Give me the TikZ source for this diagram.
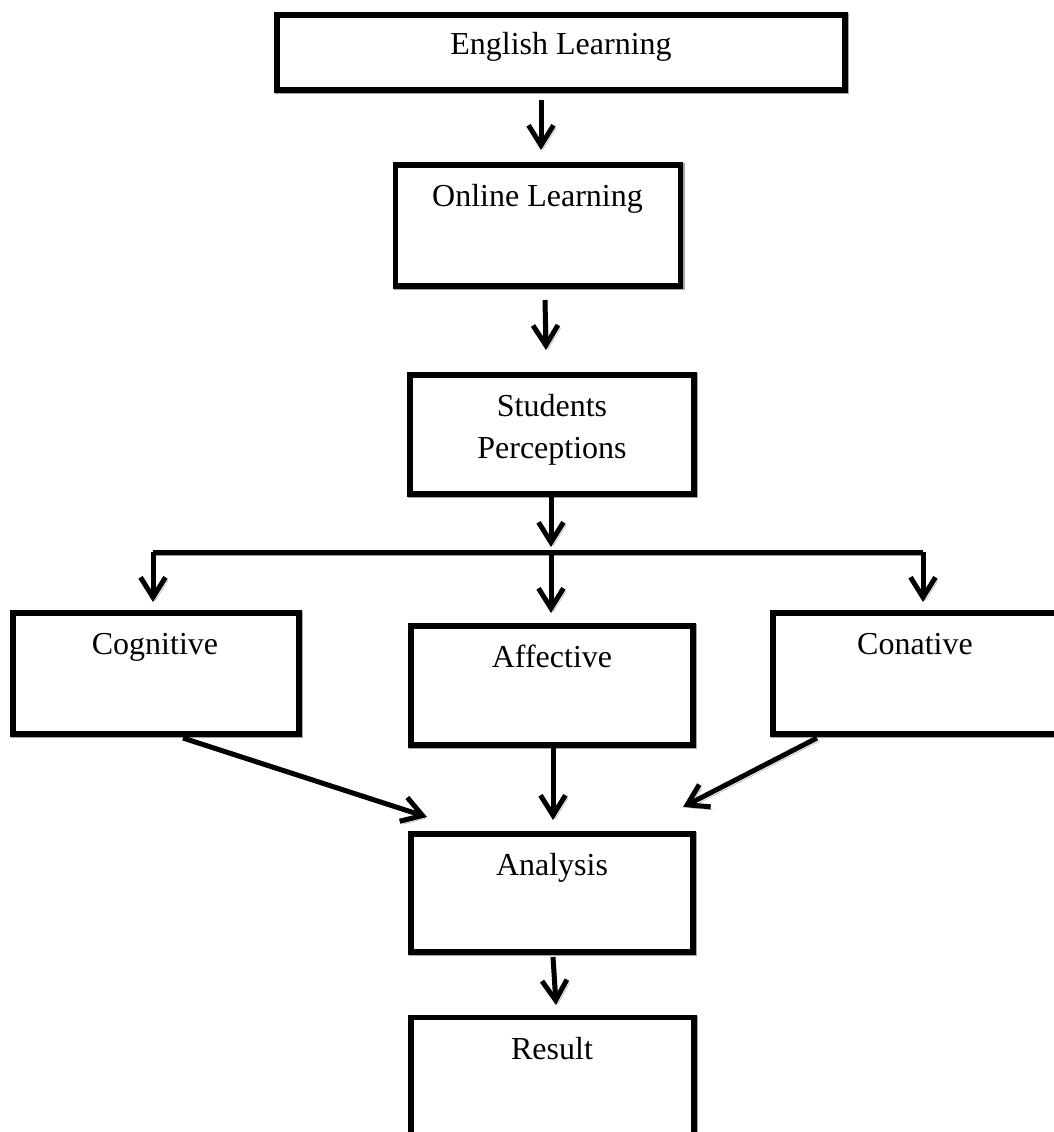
\documentclass[tikz,border=0pt]{standalone}
\usepackage{fontspec}
\setmainfont{Liberation Serif}
\usetikzlibrary{arrows.meta}
\begin{document}
\begin{tikzpicture}[x=1pt,y=-1pt,
  box/.style={draw=black, line width=5.7pt, rectangle, inner sep=0pt, outer sep=0pt, fill=white,
    preaction={draw=black!35, line width=5.7pt, transform canvas={shift={(1.2pt,-1.2pt)}}}},
  lbl/.style={anchor=base, inner sep=0pt, font=\fontsize{32}{42}\selectfont, align=center},
  arr/.style={line width=5pt, -{Straight Barb[length=20pt,width=25pt,line width=5pt]},
    preaction={draw=black!40, transform canvas={shift={(2.5pt,-3pt)}}}},
  bar/.style={line width=5pt, line cap=butt,
    preaction={draw=black!40, transform canvas={shift={(2.5pt,-3.5pt)}}}}
]
\fill[white] (0,0) rectangle (1054,1132);
\useasboundingbox (0,0) rectangle (1054,1132);

% boxes
\node[box, minimum width=568pt, minimum height=75pt] (eng) at (561,52.5) {};
\node[box, minimum width=285pt, minimum height=121pt] (onl) at (538,225.5) {};
\node[box, minimum width=284pt, minimum height=119pt] (stu) at (552,434.5) {};
\node[box, minimum width=286pt, minimum height=121pt] (cog) at (156,673.5) {};
\node[box, minimum width=282pt, minimum height=119pt] (aff) at (552,685.5) {};
\node[box, minimum width=286pt, minimum height=121pt] (con) at (916,673.5) {};
\node[box, minimum width=282pt, minimum height=118pt] (ana) at (552,893) {};
\node[box, minimum width=283pt, minimum height=123pt] (res) at (552.5,1079) {};

% labels
\node[lbl] (teng) at (561,55) {English Learning};
\node[lbl] (tonl) at (537.5,206) {Online Learning};
\node[lbl] (tstu1) at (552,416) {Students};
\node[lbl] (tstu2) at (552,458) {Perceptions};
\node[lbl] (tcog) at (155,654) {Cognitive};
\node[lbl] (taff) at (552,667) {Affective};
\node[lbl] (tcon) at (915,654) {Conative};
\node[lbl] (tana) at (552,875) {Analysis};
\node[lbl] (tres) at (552,1059) {Result};

% coordinates for arrow ends
\coordinate (a1s) at (541,100);  \coordinate (a1e) at (541,150);
\coordinate (a2s) at (545,300);  \coordinate (a2e) at (546,350);
\coordinate (a3e) at (551,547);
\coordinate (jl) at (153,552); \coordinate (jm) at (551,552); \coordinate (jr) at (923,552);
\coordinate (dl) at (153,602); \coordinate (dm) at (551,613); \coordinate (dr) at (923,602);
\coordinate (c1s) at (183,738); \coordinate (c1e) at (427,817);
\coordinate (c2e) at (553,820);
\coordinate (c3s) at (817,738); \coordinate (c3e) at (683,807);
\coordinate (c4s) at (553,957); \coordinate (c4e) at (556,1005);

% connectors
\draw[arr] (a1s) -- (a1e);
\draw[arr] (a2s) -- (a2e);
\draw[arr] (stu.south -| a3e) -- (a3e);
\draw[bar] (jl) -- (jr);
\draw[arr] (jl) -- (dl);
\draw[arr] (jm) -- (dm);
\draw[arr] (jr) -- (dr);
\draw[arr] (c1s) -- (c1e);
\draw[arr] (aff.south -| c2e) -- (c2e);
\draw[arr] (c3s) -- (c3e);
\draw[arr] (c4s) -- (c4e);
\end{tikzpicture}
\end{document}
